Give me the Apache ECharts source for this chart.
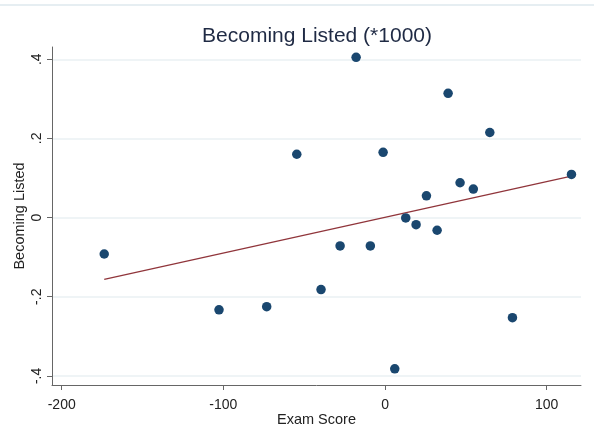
<!DOCTYPE html>
<html>
<head>
<meta charset="utf-8">
<script src="https://cdn.jsdelivr.net/npm/echarts@6/dist/echarts.min.js"></script>
<style>html,body{margin:0;padding:0;background:#fff;}#c{width:594px;height:443px;}</style>
</head>
<body>
<div id="c"></div>
<script>
var examScore = [-173.7, -102.7, -73.2, -54.6, -17.9, 39.0, -1.2, 64.8, 115.3, 46.4, 54.6, 25.6, 12.8, 19.2, 32.2, -27.8, -9.1, -39.6, 78.8, 6.0];
var becomingListed = [-0.092, -0.233, -0.225, 0.160, 0.405, 0.314, 0.165, 0.215, 0.109, 0.088, 0.072, 0.055, -0.001, -0.018, -0.032, -0.0715, -0.0715, -0.182, -0.253, -0.382];
var fitX = [-173.7, 115.3];
var fitY = [-0.156, 0.105];
var xTicks = [-200, -100, 0, 100];
var yTicks = [-0.4, -0.2, 0, 0.2, 0.4];
var yTickLabels = {"-0.4": "-.4", "-0.2": "-.2", "0": "0", "0.2": ".2", "0.4": ".4"};

var pts = examScore.map(function (x, i) { return [x, becomingListed[i]]; });
var fit = fitX.map(function (x, i) { return [x, fitY[i]]; });
var font = '"Liberation Sans", Arial, sans-serif';

var chart = echarts.init(document.getElementById('c'), null, {renderer: 'canvas'});
chart.setOption({
  backgroundColor: '#ffffff',
  animation: false,
  title: {
    text: 'Becoming Listed (*1000)',
    left: 312, top: 21, textAlign: 'center',
    textStyle: {fontFamily: font, fontSize: 21, fontWeight: 'normal', color: '#1f2a44'}
  },
  graphic: [{
    type: 'line', shape: {x1: 0, y1: 5, x2: 594, y2: 5},
    style: {stroke: '#e6eef2', lineWidth: 2}, silent: true
  }],
  grid: {left: 52, right: 13, top: 47, bottom: 58, containLabel: false, outerBoundsMode: 'none'},
  xAxis: {
    type: 'value', min: -206, max: 121.2,
    name: 'Exam Score', nameLocation: 'middle', nameGap: 27, nameMoveOverlap: false,
    nameTextStyle: {fontFamily: font, fontSize: 14.5, color: '#222'},
    axisLine: {show: true, onZero: false, lineStyle: {color: '#666', width: 1}},
    axisTick: {show: true, length: 5, inside: false, customValues: xTicks, lineStyle: {color: '#666'}},
    axisLabel: {customValues: xTicks, margin: 13, fontFamily: font, fontSize: 14, color: '#222'},
    splitLine: {show: false}
  },
  yAxis: {
    type: 'value', min: -0.423, max: 0.431,
    name: 'Becoming Listed', nameLocation: 'middle', nameGap: 25, nameRotate: 90, nameMoveOverlap: false,
    nameTextStyle: {fontFamily: font, fontSize: 14.5, color: '#222'},
    axisLine: {show: true, onZero: false, lineStyle: {color: '#666', width: 1}},
    axisTick: {show: true, length: 5, inside: false, customValues: yTicks, lineStyle: {color: '#666'}},
    axisLabel: {
      customValues: yTicks, rotate: 90, margin: 8, fontFamily: font, fontSize: 14, color: '#222',
      formatter: function (v) { var k = String(Math.round(v * 10) / 10); return yTickLabels[k] !== undefined ? yTickLabels[k] : k; }
    },
    splitLine: {show: true, lineStyle: {color: '#eaf1f3', width: 1.5}}
  },
  series: [{
    type: 'scatter', data: pts, symbol: 'circle', symbolSize: 9.5,
    itemStyle: {color: '#1a476f', opacity: 1}, z: 3
  }, {
    type: 'line', data: fit, symbol: 'none', showSymbol: false,
    lineStyle: {color: '#90353b', width: 1.3}, z: 2
  }]
});
</script>
</body>
</html>
